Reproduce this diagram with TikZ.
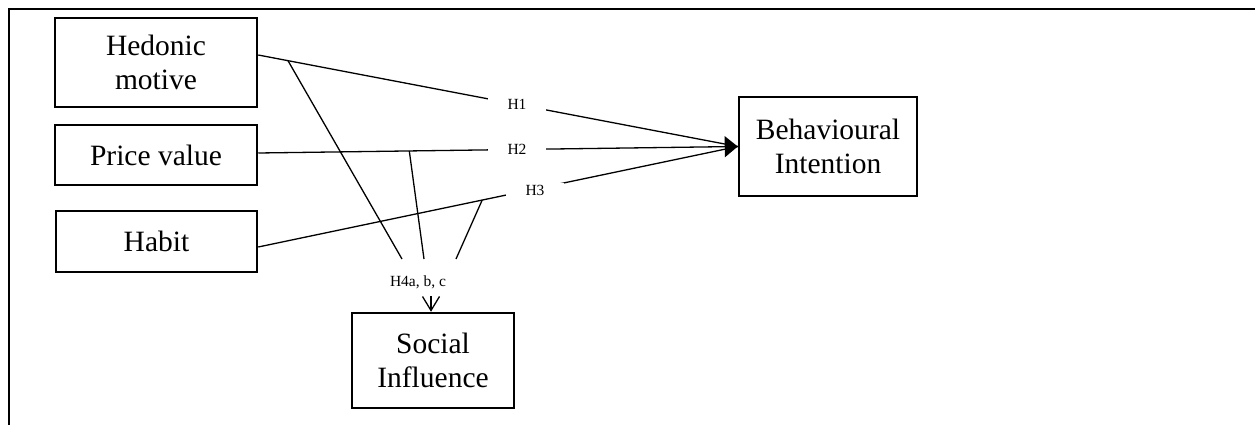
\documentclass[tikz,border=0pt]{standalone}
\usepackage{fontspec}
\setmainfont{Liberation Serif}
\usetikzlibrary{arrows.meta,calc}
\begin{document}
\begin{tikzpicture}[x=1pt,y=-1pt,
  box/.style={draw,line width=2.5pt,align=center,inner sep=0pt,font=\fontsize{29.5}{34}\selectfont},
  conn/.style={line width=1.3pt},
  lab/.style={fill=white,inner xsep=20pt,inner ysep=2pt,font=\fontsize{15.5}{18}\selectfont},
  bigtip/.style={-{Triangle[length=13pt,width=21pt]}}]
\useasboundingbox (0,0) rectangle (1255,425);
% frame
\draw[line width=2.4pt] (9,425) -- (9,9) -- (1255,9);
% boxes
\node[box,minimum width=202pt,minimum height=89pt] (hed) at (156,62.5) {Hedonic\\motive};
\node[box,minimum width=202pt,minimum height=60pt] (pri) at (156,155) {Price value};
\node[box,minimum width=201pt,minimum height=61pt] (hab) at (156.5,241.5) {Habit};
\node[box,minimum width=162pt,minimum height=95pt] (soc) at (433,360.5) {Social\\Influence};
\node[box,minimum width=178pt,minimum height=99pt] (bi) at (828,146.5) {Behavioural\\Intention};
% start points
\coordinate (s1) at ([yshift=7.5pt]hed.east);
\coordinate (s2) at ([yshift=2pt]pri.east);
\coordinate (s3) at ([yshift=-5.5pt]hab.east);
% main connectors
\draw[conn] (s1) -- (bi.west);
\draw[conn,bigtip] (s2) -- (bi.west);
\draw[conn] (s3) -- (bi.west);
% moderation lines
\coordinate (m1) at ($(s1)!0.062!(bi.west)$);
\coordinate (m2) at ($(s2)!0.315!(bi.west)$);
\coordinate (m3) at ($(s3)!0.467!(bi.west)$);
\coordinate (e1) at (402,259);
\coordinate (e2) at (424,259);
\coordinate (e3) at (456,259);
\draw[conn] (m1) -- (e1);
\draw[conn] (m2) -- (e2);
\draw[conn] (m3) -- (e3);
% labels
\node[lab] (l1) at (517,104) {H1};
\node[lab] (l2) at (517,149) {H2};
\node[lab] (l3) at (535,190) {H3};
\node[font=\fontsize{15.5}{18}\selectfont,inner sep=1pt] (l4) at (418,282) {H4a, b, c};
\coordinate (a4) at (431,296);
\draw[conn,-{Straight Barb[length=14pt,width=17pt]}] (a4) -- (a4 |- soc.north);
\end{tikzpicture}
\end{document}
